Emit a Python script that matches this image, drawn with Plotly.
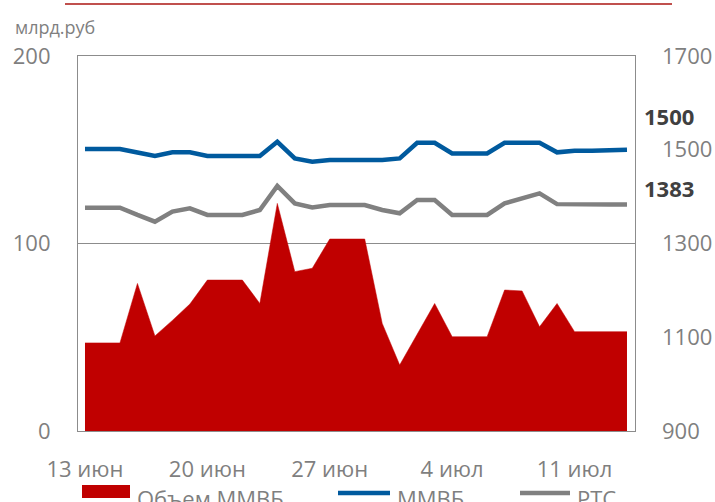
import plotly.graph_objects as go

# ---- data ----
dates = ["2014-06-13", "2014-06-14", "2014-06-15", "2014-06-16", "2014-06-17", "2014-06-18",
         "2014-06-19", "2014-06-20", "2014-06-21", "2014-06-22", "2014-06-23", "2014-06-24",
         "2014-06-25", "2014-06-26", "2014-06-27", "2014-06-28", "2014-06-29", "2014-06-30",
         "2014-07-01", "2014-07-02", "2014-07-03", "2014-07-04", "2014-07-05", "2014-07-06",
         "2014-07-07", "2014-07-08", "2014-07-09", "2014-07-10", "2014-07-11", "2014-07-12",
         "2014-07-13", "2014-07-14"]

volume = [47, 47, 47, 78.7, 50.7, 59, 67.7, 80.5, 80.5, 80.5, 68, 121.4, 85, 86.8, 102.4, 102.4,
          102.4, 57.4, 35.2, 51.6, 68, 50.3, 50.3, 50.3, 75.2, 74.7, 55.6, 68, 53, 53, 53, 53]

micex = [1501.6, 1501.6, 1501.6, 1494, 1486.7, 1494.5, 1494.5, 1486.7, 1486.7, 1486.7, 1486.7,
         1517, 1481.6, 1474.5, 1478, 1478, 1478, 1478, 1481.6, 1515, 1515, 1492, 1492, 1492,
         1515, 1515, 1515, 1494.5, 1498, 1498, 1498, 1500]

rts = [1376.5, 1376.5, 1376.5, 1361, 1346.6, 1368, 1375, 1361, 1361, 1361, 1371.5, 1422.7,
       1385.7, 1377, 1382, 1382, 1382, 1371.5, 1364.4, 1392.8, 1392.8, 1361, 1361, 1361,
       1385.7, 1396.4, 1407, 1384, 1383, 1383, 1383, 1383]

tick_dates = ["2014-06-13", "2014-06-20", "2014-06-27", "2014-07-04", "2014-07-11"]
tick_text = ["13 июн", "20 июн", "27 июн", "4 июл", "11 июл"]

left_ticks = [0, 100, 200]
right_ticks = [900, 1100, 1300, 1500, 1700]

series_names = ["Объем ММВБ", "ММВБ", "РТС"]
colors = {"vol": "#C00000", "micex": "#005A9E", "rts": "#808080"}

# ---- layout geometry (pixels) ----
W, H = 715, 502
L, R, T, B = 78, 635, 56, 431
pw, ph = R - L, B - T


def px(x):
    return (x - L) / pw


def py(y):
    return (B - y) / ph


FONT = "Open Sans"
GRAY = "#7f7f7f"
GRID = "#8c8c8c"

fig = go.Figure()
fig.add_trace(go.Scatter(x=dates, y=volume, mode="lines", fill="tozeroy",
                         fillcolor=colors["vol"], line=dict(color=colors["vol"], width=0.5),
                         name=series_names[0], yaxis="y", showlegend=False))
fig.add_trace(go.Scatter(x=dates, y=micex, mode="lines",
                         line=dict(color=colors["micex"], width=4.5),
                         name=series_names[1], yaxis="y2", showlegend=False))
fig.add_trace(go.Scatter(x=dates, y=rts, mode="lines",
                         line=dict(color=colors["rts"], width=4.5),
                         name=series_names[2], yaxis="y2", showlegend=False))

fig.update_layout(
    width=W, height=H, autosize=False,
    margin=dict(l=L, r=W - R, t=T, b=H - B, pad=0, autoexpand=False),
    paper_bgcolor="white", plot_bgcolor="white",
    font=dict(family=FONT, size=22, color=GRAY),
    xaxis=dict(type="date", range=["2014-06-12 14:24", "2014-07-14 11:00"],
               tickvals=tick_dates, ticktext=tick_text, showgrid=False,
               showline=True, linecolor=GRID, linewidth=1.2, mirror=True,
               ticks="", ticklabelstandoff=18, zeroline=False, automargin=False,
               tickfont=dict(family=FONT, size=22, color=GRAY)),
    yaxis=dict(range=[0, 200], tickvals=left_ticks, showgrid=True, gridcolor=GRID,
               gridwidth=1.2, showline=True, linecolor=GRID, linewidth=1.2, mirror=True,
               zeroline=False, ticks="", ticklabelstandoff=22, automargin=False,
               tickfont=dict(family=FONT, size=22, color=GRAY)),
    yaxis2=dict(range=[900, 1700], tickvals=right_ticks, overlaying="y", side="right",
                showgrid=False, zeroline=False, showline=False, ticks="",
                ticklabelstandoff=26, automargin=False,
                tickfont=dict(family=FONT, size=22, color=GRAY)),
    showlegend=False,
)

annotations = [
    dict(text="млрд.руб", x=px(13), y=py(27), xref="paper", yref="paper",
         xanchor="left", yanchor="middle", showarrow=False,
         font=dict(family=FONT, size=18, color=GRAY)),
    dict(text=f"<b>{micex[-1]:.0f}</b>", x=px(642), y=py(116), xref="paper", yref="paper",
         xanchor="left", yanchor="middle", showarrow=False,
         font=dict(family=FONT, size=22, color="#404040")),
    dict(text=f"<b>{rts[-1]:.0f}</b>", x=px(642), y=py(188), xref="paper", yref="paper",
         xanchor="left", yanchor="middle", showarrow=False,
         font=dict(family=FONT, size=22, color="#404040")),
    dict(text=series_names[0], x=px(135), y=py(498), xref="paper", yref="paper",
         xanchor="left", yanchor="middle", showarrow=False,
         font=dict(family=FONT, size=22, color=GRAY)),
    dict(text=series_names[1], x=px(395), y=py(498), xref="paper", yref="paper",
         xanchor="left", yanchor="middle", showarrow=False,
         font=dict(family=FONT, size=22, color=GRAY)),
    dict(text=series_names[2], x=px(575), y=py(498), xref="paper", yref="paper",
         xanchor="left", yanchor="middle", showarrow=False,
         font=dict(family=FONT, size=22, color=GRAY)),
]

shapes = [
    dict(type="line", xref="paper", yref="paper", x0=px(65), x1=px(672), y0=py(4), y1=py(4),
         line=dict(color="#C0504D", width=2)),
    dict(type="rect", xref="paper", yref="paper", x0=px(82), x1=px(130), y0=py(485), y1=py(498),
         fillcolor=colors["vol"], line=dict(width=0)),
    dict(type="line", xref="paper", yref="paper", x0=px(338), x1=px(390), y0=py(493), y1=py(493),
         line=dict(color=colors["micex"], width=4.5)),
    dict(type="line", xref="paper", yref="paper", x0=px(520), x1=px(570), y0=py(493), y1=py(493),
         line=dict(color=colors["rts"], width=4.5)),
]

fig.update_layout(annotations=annotations, shapes=shapes)
fig.write_html("out.html", config={"displayModeBar": False},
               post_script="document.body.style.margin='0';document.body.style.padding='0';"
                           "document.body.style.overflow='hidden';")
